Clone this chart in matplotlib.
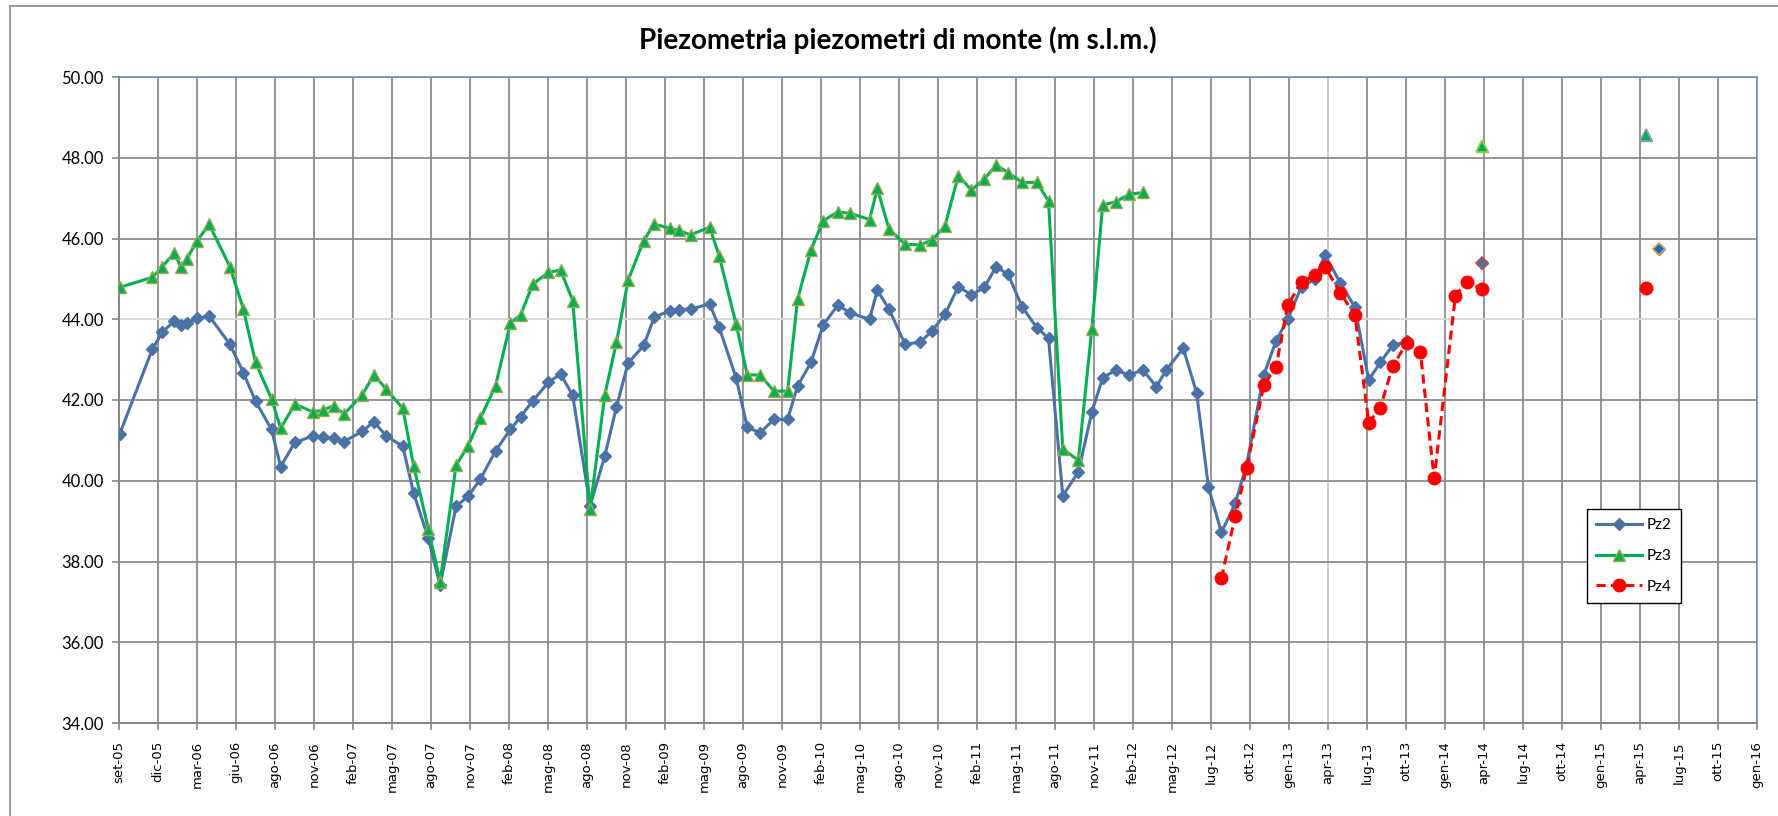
import numpy as np
import pandas as pd
import matplotlib.pyplot as plt
from matplotlib.lines import Line2D

nan = np.nan

# date of each reading and levels in m s.l.m. (nan = no reading that day)
dates = [
    "2005-09-07", "2005-11-21", "2005-12-14", "2006-01-11", "2006-01-25", "2006-02-08",
    "2006-03-05", "2006-04-01", "2006-05-19", "2006-06-19", "2006-07-17", "2006-08-23",
    "2006-09-13", "2006-10-16", "2006-11-27", "2006-12-19", "2007-01-14", "2007-02-06",
    "2007-03-20", "2007-04-16", "2007-05-15", "2007-06-22", "2007-07-17", "2007-08-20",
    "2007-09-16", "2007-10-23", "2007-11-20", "2007-12-18", "2008-01-22", "2008-02-25",
    "2008-03-20", "2008-04-17", "2008-05-23", "2008-06-20", "2008-07-18", "2008-08-27",
    "2008-09-30", "2008-10-27", "2008-11-23", "2008-12-29", "2009-01-22", "2009-02-27",
    "2009-03-20", "2009-04-16", "2009-05-30", "2009-06-21", "2009-07-30", "2009-08-25",
    "2009-09-24", "2009-10-25", "2009-11-26", "2009-12-19", "2010-01-19", "2010-02-16",
    "2010-03-22", "2010-04-20", "2010-06-03", "2010-06-21", "2010-07-18", "2010-08-24",
    "2010-09-28", "2010-10-25", "2010-11-24", "2010-12-25", "2011-01-24", "2011-02-23",
    "2011-03-22", "2011-04-19", "2011-05-21", "2011-06-24", "2011-07-21", "2011-08-23",
    "2011-09-28", "2011-10-29", "2011-11-23", "2011-12-23", "2012-01-23", "2012-02-24",
    "2012-03-26", "2012-04-18", "2012-05-27", "2012-06-27", "2012-07-24", "2012-08-23",
    "2012-09-24", "2012-10-20", "2012-11-29", "2012-12-27", "2013-01-23", "2013-02-24",
    "2013-03-27", "2013-04-19", "2013-05-24", "2013-06-27", "2013-07-29", "2013-08-25",
    "2013-09-22", "2013-10-25", "2013-11-25", "2013-12-27", "2014-02-14", "2014-03-12",
    "2014-04-16", "2015-04-30", "2015-05-30",
]

pz2 = [
    41.17, 43.26, 43.68, 43.96, 43.85, 43.91, 44.02, 44.08, 43.38, 42.68, 41.97, 41.27,
    40.35, 40.95, 41.11, 41.08, 41.05, 40.97, 41.22, 41.46, 41.11, 40.85, 39.69, 38.57,
    37.42, 39.37, 39.62, 40.04, 40.74, 41.27, 41.59, 41.98, 42.44, 42.64, 42.12, 39.38,
    40.61, 41.83, 42.92, 43.35, 44.05, 44.21, 44.24, 44.25, 44.38, 43.80, 42.55, 41.32,
    41.19, 41.52, 41.52, 42.35, 42.93, 43.86, 44.35, 44.15, 44.00, 44.72, 44.25, 43.38,
    43.43, 43.71, 44.12, 44.81, 44.60, 44.79, 45.30, 45.11, 44.31, 43.79, 43.53, 39.63,
    40.22, 41.70, 42.55, 42.74, 42.62, 42.74, 42.33, 42.75, 43.28, 42.17, 39.85, 38.72,
    39.44, 40.39, 42.62, 43.46, 44.00, 44.81, 44.99, 45.59, 44.91, 44.30, 42.50, 42.93,
    43.35, 43.45, nan, nan, nan, nan,
    45.39, nan, 45.73,
]

pz3 = [
    44.79, 45.04, 45.30, 45.65, 45.30, 45.49, 45.95, 46.35, 45.30, 44.25, 42.93, 42.03,
    41.30, 41.90, 41.70, 41.75, 41.86, 41.65, 42.12, 42.62, 42.27, 41.79, 40.37, 38.80,
    37.50, 40.39, 40.87, 41.55, 42.35, 43.90, 44.11, 44.87, 45.16, 45.22, 44.46, 39.29,
    42.12, 43.43, 44.97, 45.95, 46.36, 46.25, 46.20, 46.09, 46.28, 45.57, 43.88, 42.62,
    42.62, 42.22, 42.22, 44.50, 45.72, 46.44, 46.66, 46.62, 46.47, 47.24, 46.23, 45.86,
    45.84, 45.96, 46.31, 47.56, 47.20, 47.47, 47.82, 47.63, 47.39, 47.39, 46.93, 40.78,
    40.51, 43.76, 46.83, 46.91, 47.09, 47.14, nan, nan, nan, nan, nan, nan,
    nan, nan, nan, nan, nan, nan, nan, nan, nan, nan, nan, nan,
    nan, nan, nan, nan, nan, nan,
    48.30, 48.57, nan,
]

pz4 = [nan] * 83 + [
    37.58, 39.13, 40.31, 42.37, 42.81, 44.35, 44.92, 45.10, 45.30, 44.66, 44.11, 41.44,
    41.81, 42.83, 43.42, 43.20, 40.06, 44.58, 44.93,
    44.75, 44.78, nan,
]

tick_labels = [
    "set-05", "dic-05", "mar-06", "giu-06", "ago-06", "nov-06", "feb-07", "mag-07",
    "ago-07", "nov-07", "feb-08", "mag-08", "ago-08", "nov-08", "feb-09", "mag-09",
    "ago-09", "nov-09", "feb-10", "mag-10", "ago-10", "nov-10", "feb-11", "mag-11",
    "ago-11", "nov-11", "feb-12", "mag-12", "lug-12", "ott-12", "gen-13", "apr-13",
    "lug-13", "ott-13", "gen-14", "apr-14", "lug-14", "ott-14", "gen-15", "apr-15",
    "lug-15", "ott-15", "gen-16",
]
y_ticks = [34, 36, 38, 40, 42, 44, 46, 48, 50]

# single readings whose markers carry their own border colour
odd_points = [
    ("Pz2", "2014-04-16", "#4A72A8", "#C0504D"),
    ("Pz3", "2014-04-16", "#00B050", "#92D050"),
    ("Pz3", "2015-04-30", "#00B050", "#7F9FC8"),
    ("Pz2", "2015-05-30", "#0070C0", "#F79646"),
]

font = ["Lato", "DejaVu Sans"]
blue = "#4A72A8"
green = "#00B050"
red = "#FF0000"

x = pd.to_datetime(dates)
df = pd.DataFrame({"Pz2": pz2, "Pz3": pz3, "Pz4": pz4}, index=x)
# the 2015 readings stand alone, not joined to the 2014 ones
run = df.loc[:"2014-12-31"]
late = df.loc["2015-01-01":]

fig = plt.figure(figsize=(17.78, 8.16), dpi=100)
ax = fig.add_axes([119 / 1778, 1 - 723 / 816, 1638 / 1778, 646 / 816])

styles = {
    "Pz2": dict(color=blue, lw=2.2, marker="D", ms=6.5, mfc=blue, mec=blue, zorder=3),
    "Pz3": dict(color=green, lw=2.2, marker="^", ms=9, mfc=green, mec="#9BA84F",
                mew=1, zorder=4),
    "Pz4": dict(color=red, lw=2.2, ls=(0, (3, 1.7)), marker="o", ms=9, mfc=red,
                mec=red, zorder=5),
}
for name, st in styles.items():
    ax.plot(run.index, run[name], label=name, **st)
    loose = {k: v for k, v in st.items() if k not in ("ls", "lw")}
    ax.plot(late.index, late[name], ls="none", **loose)

for name, day, fill, edge in odd_points:
    st = styles[name]
    t = pd.Timestamp(day)
    ax.plot([t], [df.loc[t, name]], ls="none", marker=st["marker"], ms=st["ms"],
            mfc=fill, mec=edge, mew=1.2, zorder=6)

# 90-day category ticks as in the spreadsheet axis
start = pd.Timestamp("2005-09-05")
ticks = [start + pd.Timedelta(days=90 * k) for k in range(len(tick_labels))]
ax.set_xticks(ticks)
ax.set_xticklabels(tick_labels, rotation=90, family="DejaVu Sans", fontsize=9.5)
ax.set_xlim(ticks[0], ticks[-1])

ax.set_ylim(34, 50)
ax.set_yticks(y_ticks)
ax.set_yticklabels([f"{v:.2f}" for v in y_ticks], family=font, fontsize=12)

ax.set_axisbelow(True)
ax.grid(True, color="#8c8c8c", lw=1.3)
ax.get_ygridlines()[5].set_color("#d4d4d4")
ax.get_xgridlines()[31].set_color("#c4c4c4")

ax.tick_params(axis="both", direction="out", length=5, width=1.2, color="#868686")
ax.tick_params(axis="y", pad=6)
ax.tick_params(axis="x", pad=8)
for side in ["left", "bottom"]:
    ax.spines[side].set_color("#868686")
    ax.spines[side].set_linewidth(1.4)
for side in ["top", "right"]:
    ax.spines[side].set_color("#5B8FD0")
    ax.spines[side].set_linewidth(1.1)

fig.text(0.505, 1 - 40 / 816, "Piezometria piezometri di monte (m s.l.m.)",
         ha="center", va="center", fontsize=20, fontweight="bold", family=font)

leg = ax.legend(loc="upper left", bbox_to_anchor=(1587 / 1778, 1 - 509 / 816),
                bbox_transform=fig.transFigure, fancybox=False, edgecolor="black",
                framealpha=1, handlelength=3.0, labelspacing=1.1, borderpad=0.6,
                handletextpad=0.3, borderaxespad=0, prop={"family": font, "size": 11})
leg.get_frame().set_linewidth(1.0)

# chart area border
fig.add_artist(Line2D([10 / 1778, 10 / 1778], [0, 1 - 6 / 816],
                      transform=fig.transFigure, color="#8a8a8a", lw=1.2))
fig.add_artist(Line2D([10 / 1778, 1], [1 - 6 / 816, 1 - 6 / 816],
                      transform=fig.transFigure, color="#8a8a8a", lw=1.2))

fig.savefig("out.png", dpi=100)
